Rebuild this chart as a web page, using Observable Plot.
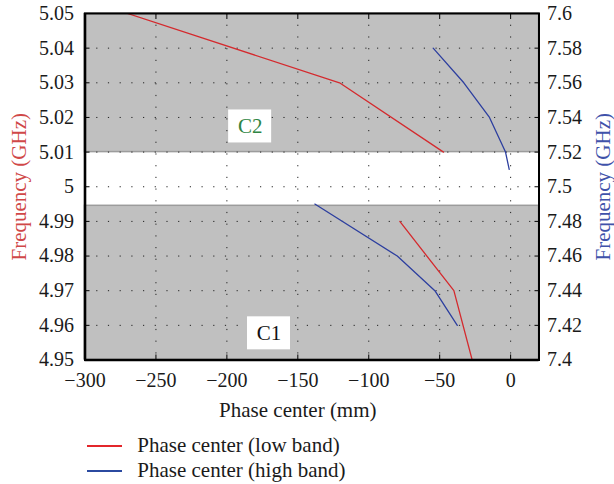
<!DOCTYPE html>
<html><head><meta charset="utf-8">
<script src="https://cdn.jsdelivr.net/npm/d3@7"></script>
<script src="https://cdn.jsdelivr.net/npm/@observablehq/plot@0.6"></script>
<style>
body{margin:0;background:#fff;font-family:"Liberation Serif",serif;}
#wrap{position:relative;width:614px;height:484px;overflow:hidden;}
#legend{position:absolute;left:0;top:428px;width:614px;height:56px;}
.row{position:absolute;left:86.7px;display:flex;align-items:center;height:25px;line-height:25px;font-size:21px;color:#1a1a1a;white-space:nowrap;}
.sw{width:35px;height:2px;margin-right:15.6px;}
</style></head><body><div id="wrap"><div id="chart"></div><div id="legend"></div></div>
<script>
// ---- data ----
const xTicks = [-300, -250, -200, -150, -100, -50, 0];
const xTickLabels = ["−300", "−250", "−200", "−150", "−100", "−50", "0"];
const leftTicks = [4.95, 4.96, 4.97, 4.98, 4.99, 5.00, 5.01, 5.02, 5.03, 5.04, 5.05];
const leftTickLabels = ["4.95", "4.96", "4.97", "4.98", "4.99", "5", "5.01", "5.02", "5.03", "5.04", "5.05"];
const rightTicks = [7.40, 7.42, 7.44, 7.46, 7.48, 7.50, 7.52, 7.54, 7.56, 7.58, 7.60];
const rightTickLabels = ["7.4", "7.42", "7.44", "7.46", "7.48", "7.5", "7.52", "7.54", "7.56", "7.58", "7.6"];

// low band (left axis, GHz) — two branches
const lowX1 = [-270, -120.6, -47.3];
const lowF1 = [5.05, 5.03, 5.01];
const lowX2 = [-78.1, -40, -27.1];
const lowF2 = [4.99, 4.97, 4.95];
// high band (right axis, GHz) — two branches
const highX1 = [-54.6, -33, -14.9, -3.6, -1];
const highF1 = [7.58, 7.56, 7.54, 7.52, 7.51];
const highX2 = [-138, -79.9, -53.4, -37.6];
const highF2 = [7.49, 7.46, 7.44, 7.42];

// shaded bands (left-axis GHz)
const bandNames = ["C2", "C1"];
const bandLow = [5.01, 4.95];
const bandHigh = [5.05, 4.9945];
// band labels
const zoneText = ["C2", "C1"];
const zoneX = [-183.6, -170.3];
const zoneF = [5.0174, 4.9577];
const zoneColor = ["#2f8544", "#111111"];

const xDomain = [-300, 20];
const leftDomain = [4.95, 5.05];
const rightDomain = [7.4, 7.6];

const xLabel = "Phase center (mm)";
const leftLabel = "Frequency (GHz)";
const rightLabel = "Frequency (GHz)";
const seriesNames = ["Phase center (low band)", "Phase center (high band)"];
const seriesColors = ["#d42a2e", "#2d3f9f"];
const legendColors = ["#e3262b", "#2b4aa0"];

// ---- build tables ----
const toLeft = f => leftDomain[0] + (f - rightDomain[0]) * (leftDomain[1] - leftDomain[0]) / (rightDomain[1] - rightDomain[0]);
const low = [
  ...lowX1.map((x, i) => ({x, f: lowF1[i], seg: "a"})),
  ...lowX2.map((x, i) => ({x, f: lowF2[i], seg: "b"}))
];
const high = [
  ...highX1.map((x, i) => ({x, f: toLeft(highF1[i]), seg: "a"})),
  ...highX2.map((x, i) => ({x, f: toLeft(highF2[i]), seg: "b"}))
];
const bands = bandNames.map((n, i) => ({n, y1: bandLow[i], y2: bandHigh[i]}));
const zones = zoneText.map((t, i) => ({t, x: zoneX[i], f: zoneF[i], c: zoneColor[i]}));
const rightMapped = rightTicks.map(toLeft);

const gridXTicks = xTicks.slice(1);
const gridYTicks = leftTicks.slice(1, -1);

const plot = Plot.plot({
  width: 614,
  height: 428,
  marginLeft: 84.5,
  marginRight: 75.5,
  marginTop: 13,
  marginBottom: 68.5,
  style: {fontFamily: "'Liberation Serif', serif", fontSize: "20px", color: "#1a1a1a", background: "#fff"},
  x: {domain: xDomain, axis: null},
  y: {domain: leftDomain, axis: null},
  marks: [
    Plot.rect(bands, {x1: xDomain[0], x2: xDomain[1], y1: "y1", y2: "y2", fill: "#c0c0c0", stroke: "#9c9c9c", strokeWidth: 1.5}),
    Plot.gridX(gridXTicks, {stroke: "#222", strokeOpacity: 1, strokeDasharray: "1.2,10.5"}),
    Plot.gridY(gridYTicks, {stroke: "#222", strokeOpacity: 1, strokeDasharray: "1.2,10.5"}),
    Plot.line(low, {x: "x", y: "f", z: "seg", stroke: seriesColors[0], strokeWidth: 1.3, clip: true}),
    Plot.line(high, {x: "x", y: "f", z: "seg", stroke: seriesColors[1], strokeWidth: 1.3, clip: true}),
    Plot.text(zones, {x: "x", y: "f", text: "t", fill: "c", fontSize: 21}),
    Plot.frame({stroke: "#000", strokeWidth: 2}),
    Plot.ruleX([xDomain[0]], {stroke: "#000", strokeWidth: 2.6}),
    Plot.ruleY([leftDomain[0]], {stroke: "#000", strokeWidth: 2.6}),
    Plot.axisY(leftTicks, {anchor: "left", tickSize: -5, tickPadding: 16, fontSize: 20, label: null, stroke: "#000",
      tickFormat: d => leftTickLabels[leftTicks.indexOf(d)]}),
    Plot.axisY(rightMapped, {anchor: "right", tickSize: -5, tickPadding: 13, fontSize: 20, label: null, stroke: "#000",
      tickFormat: d => rightTickLabels[rightMapped.indexOf(d)]}),
    Plot.axisX(xTicks, {anchor: "bottom", tickSize: -5, tickPadding: 18, fontSize: 20, label: null, stroke: "#000",
      tickFormat: d => xTickLabels[xTicks.indexOf(d)]}),
    Plot.axisX(xTicks, {anchor: "top", tickSize: -5, label: null, stroke: "#000", tickFormat: () => ""}),
    Plot.text([xLabel], {x: -150, frameAnchor: "bottom", dy: 49.8, text: d => d, fontSize: 21, textAnchor: "middle", lineAnchor: "middle", fill: "#1a1a1a"}),
    Plot.text([leftLabel], {frameAnchor: "left", dx: -66, rotate: -90, text: d => d, fontSize: 21, textAnchor: "middle", lineAnchor: "middle", fill: "#d04848"}),
    Plot.text([rightLabel], {frameAnchor: "right", dx: 64, rotate: -90, text: d => d, fontSize: 21, textAnchor: "middle", lineAnchor: "middle", fill: "#4052aa"})
  ]
});
document.getElementById("chart").appendChild(plot);

// white boxes behind zone labels
const sx = plot.scale("x"), sy = plot.scale("y");
const zoneTexts = Array.from(plot.querySelectorAll("text")).filter(t => zoneText.includes(t.textContent));
if (zoneTexts.length) {
  let g = zoneTexts[0];
  while (g.parentNode && g.parentNode !== plot) g = g.parentNode;
  zones.forEach(z => {
    const cx = sx.apply(z.x), cy = sy.apply(z.f);
    const r = document.createElementNS("http://www.w3.org/2000/svg", "rect");
    r.setAttribute("x", cx - 21.5); r.setAttribute("y", cy - 16.5);
    r.setAttribute("width", 43); r.setAttribute("height", 33);
    r.setAttribute("fill", "#fff");
    plot.insertBefore(r, g);
  });
}

// legend
const leg = document.getElementById("legend");
seriesNames.forEach((name, i) => {
  const row = document.createElement("div");
  row.className = "row";
  row.style.top = (5 + i * 25.3) + "px";
  const sw = document.createElement("span");
  sw.className = "sw";
  sw.style.background = legendColors[i];
  const tx = document.createElement("span");
  tx.textContent = name;
  row.appendChild(sw); row.appendChild(tx);
  leg.appendChild(row);
});
</script>
</body></html>
